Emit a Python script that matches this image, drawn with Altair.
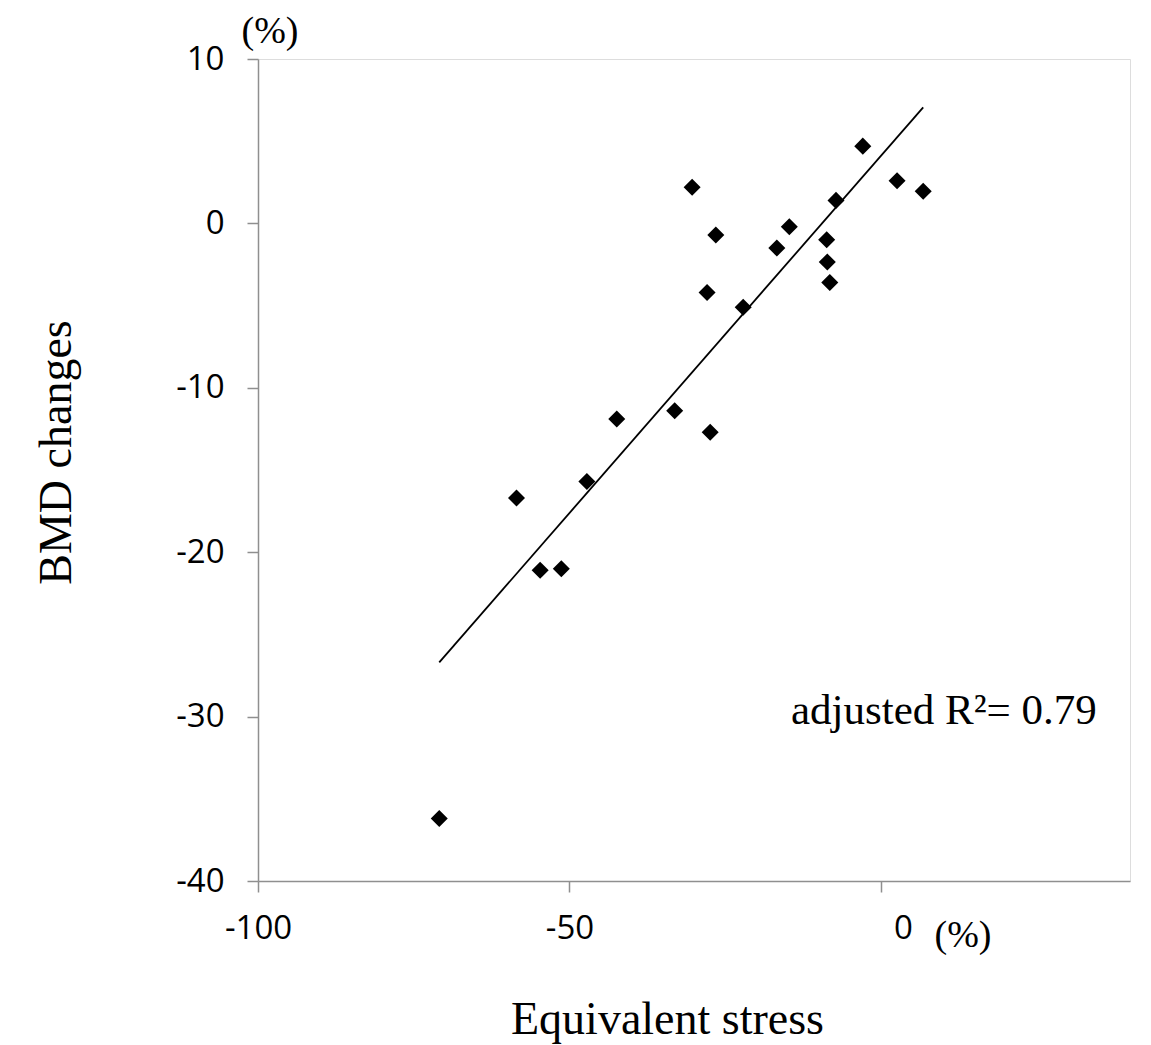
import altair as alt
import pandas as pd

# Equivalent stress change (%) vs BMD change (%)
stress = [-70.9, -58.5, -54.7, -51.3, -47.2, -42.4, -33.1, -30.3, -27.9, -27.4, -26.5,
          -22.1, -16.7, -14.7, -8.7, -8.6, -8.2, -7.2, -2.9, 2.6, 6.8]
bmd = [-36.2, -16.7, -21.1, -21.0, -15.7, -11.9, -11.4, 2.2, -4.2, -12.7, -0.7,
       -5.1, -1.5, -0.2, -1.0, -2.35, -3.6, 1.4, 4.7, 2.6, 1.95]

# fitted regression line end points
fit_x = [-70.9, 6.8]
fit_y = [-26.7, 7.06]

x_ticks = [-100, -50, 0]
y_ticks = [-40, -30, -20, -10, 0, 10]

pts = pd.DataFrame({"stress": stress, "bmd": bmd})
fit = pd.DataFrame({"stress": fit_x, "bmd": fit_y})

AX = "#8f8f8f"
SERIF = "Liberation Serif"
SANS = "Open Sans"
LBL = "'' + datum.value"

xscale = alt.Scale(domain=[-100, 40], nice=False, zero=False)
yscale = alt.Scale(domain=[-40, 10], nice=False, zero=False)

xaxis = alt.Axis(
    values=x_ticks, grid=False, domainColor=AX, domainWidth=1.5, tickColor=AX,
    tickWidth=1.5, tickSize=11, labelFont=SANS, labelFontSize=33, labelColor="black",
    labelPadding=20, labelExpr=LBL, labelFlush=False, labelOverlap=False,
    labelOffset={"condition": {"test": "datum.value == 0", "value": 22}, "value": 0},
    title="Equivalent stress", titleFont=SERIF, titleFontSize=46, titleFontWeight="normal",
    titleColor="black", titleX=409, titleY=152, titleBaseline="alphabetic",
    titleAlign="center",
)
yaxis = alt.Axis(
    values=y_ticks, grid=False, domainColor=AX, domainWidth=1.5, tickColor=AX,
    tickWidth=1.5, tickSize=11, labelFont=SANS, labelFontSize=33, labelColor="black",
    labelPadding=23, labelExpr=LBL, labelFlush=False, labelOverlap=False,
    title="BMD changes", titleFont=SERIF, titleFontSize=46, titleFontWeight="normal",
    titleColor="black", titleX=-188, titleY=393, titleAngle=270,
    titleBaseline="alphabetic", titleAlign="center",
)

points = alt.Chart(pts).mark_point(
    shape="diamond", filled=True, color="black", size=290, opacity=1
).encode(
    x=alt.X("stress:Q", scale=xscale, axis=xaxis),
    y=alt.Y("bmd:Q", scale=yscale, axis=yaxis),
)

line = alt.Chart(fit).mark_line(color="black", strokeWidth=1.8).encode(
    x=alt.X("stress:Q", scale=xscale),
    y=alt.Y("bmd:Q", scale=yscale),
)

ann = pd.DataFrame({"t": [0]})
pct_top = alt.Chart(ann).mark_text(
    text="(%)", font=SERIF, fontSize=38, color="black", align="center", baseline="alphabetic"
).encode(x=alt.value(12), y=alt.value(-16))
pct_bottom = alt.Chart(ann).mark_text(
    text="(%)", font=SERIF, fontSize=38, color="black", align="center", baseline="alphabetic"
).encode(x=alt.value(705), y=alt.value(888))
r2 = alt.Chart(ann).mark_text(
    text="adjusted R²= 0.79", font=SERIF, fontSize=43, color="black", align="left",
    baseline="alphabetic"
).encode(x=alt.value(533), y=alt.value(665))

chart = alt.layer(line, points, pct_top, pct_bottom, r2).properties(
    width=872, height=822,
    autosize=alt.AutoSizeParams(type="none"),
    padding={"left": 258, "top": 59, "right": 21, "bottom": 164},
).configure_view(stroke=None).configure(background="white")

chart.save("out.html", embed_options={"renderer": "svg", "actions": False})
